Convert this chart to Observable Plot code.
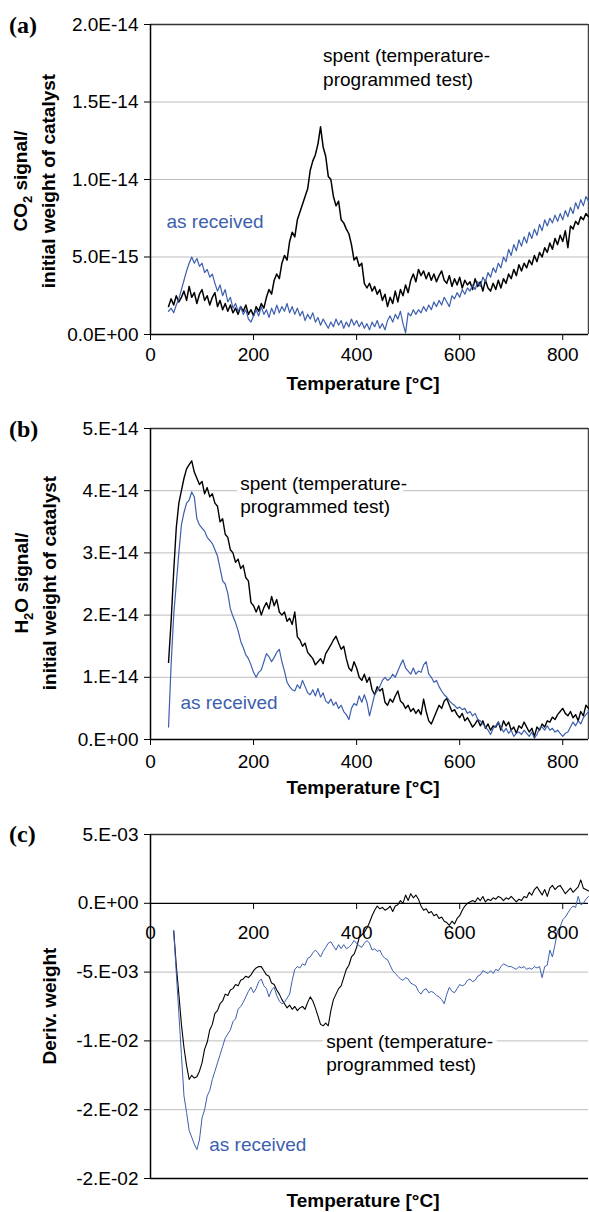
<!DOCTYPE html>
<html><head><meta charset="utf-8">
<script src="https://cdn.jsdelivr.net/npm/d3@7"></script>
<script src="https://cdn.jsdelivr.net/npm/@observablehq/plot@0.6"></script>
<style>
body{margin:0;background:#fff;}
#wrap{position:relative;width:589px;height:1212px;overflow:hidden;}
.panel{position:absolute;left:0;}
</style></head><body><div id="wrap"></div>
<script>
// Temperature grid (°C) for panels (a) and (b)
const tempsAB = [35,40,45,50,55,60,65,70,75,80,85,90,95,100,105,110,115,120,125,130,135,140,145,150,155,160,165,170,175,180,185,190,195,200,205,210,215,220,225,230,235,240,245,250,255,260,265,270,275,280,285,290,295,300,305,310,315,320,325,330,335,340,345,350,355,360,365,370,375,380,385,390,395,400,405,410,415,420,425,430,435,440,445,450,455,460,465,470,475,480,485,490,495,500,505,510,515,520,525,530,535,540,545,550,555,560,565,570,575,580,585,590,595,600,605,610,615,620,625,630,635,640,645,650,655,660,665,670,675,680,685,690,695,700,705,710,715,720,725,730,735,740,745,750,755,760,765,770,775,780,785,790,795,800,805,810,815,820,825,830,835,840,845,850];
// Temperature grid (°C) for panel (c)
const tempsC = [45,50,55,60,65,70,75,80,85,90,95,100,105,110,115,120,125,130,135,140,145,150,155,160,165,170,175,180,185,190,195,200,205,210,215,220,225,230,235,240,245,250,255,260,265,270,275,280,285,290,295,300,305,310,315,320,325,330,335,340,345,350,355,360,365,370,375,380,385,390,395,400,405,410,415,420,425,430,435,440,445,450,455,460,465,470,475,480,485,490,495,500,505,510,515,520,525,530,535,540,545,550,555,560,565,570,575,580,585,590,595,600,605,610,615,620,625,630,635,640,645,650,655,660,665,670,675,680,685,690,695,700,705,710,715,720,725,730,735,740,745,750,755,760,765,770,775,780,785,790,795,800,805,810,815,820,825,830,835,840,845,850];

// (a) CO2 signal / initial weight, in units of 1E-15
const co2Spent = [1.8,2.3,1.9,2.5,2.1,2.4,2.8,2.2,3.1,2.4,
2.7,2.0,2.6,2.9,2.2,2.5,1.9,2.4,2.7,1.8,
2.2,1.6,2.0,1.5,1.9,1.4,1.7,1.3,1.8,1.5,
1.9,1.3,1.6,1.2,1.8,1.5,2.0,1.7,2.4,2.9,
2.6,3.5,3.9,3.6,4.6,5.1,4.8,6.0,6.6,6.3,
7.4,7.9,8.4,8.9,9.4,10.6,11.2,11.6,12.3,13.4,
12.1,11.5,10.2,10.0,8.9,8.3,8.6,7.4,7.2,6.8,
6.5,5.8,4.8,5.0,4.4,4.6,3.3,3.0,3.3,2.8,
3.1,2.6,2.9,2.2,2.6,1.8,2.4,2.0,2.8,2.1,
2.9,2.5,3.2,2.7,3.5,3.9,3.4,4.2,3.8,4.1,
3.6,4.0,3.5,3.9,3.4,3.8,4.1,3.5,3.3,3.8,
3.1,3.6,3.2,3.7,3.0,3.5,3.2,3.4,2.9,3.6,
3.1,3.4,2.8,3.5,3.0,2.8,3.3,2.9,3.5,3.0,
3.6,3.3,3.9,3.6,4.2,3.8,4.5,4.1,4.6,4.3,
4.8,4.5,5.1,4.7,5.3,5.0,5.6,5.3,5.9,5.5,
6.2,5.8,6.4,6.0,6.7,5.6,7.0,6.8,7.3,7.1,
7.6,7.4,7.8,7.6];
const co2Received = [1.5,1.7,1.4,1.9,2.3,2.9,3.5,4.1,4.6,5.0,
4.6,4.9,4.4,4.6,4.0,4.2,3.7,3.9,3.3,2.8,
3.2,2.5,2.9,2.1,2.4,1.7,2.0,1.5,1.8,1.3,
1.6,1.0,0.8,1.2,1.6,1.2,1.8,1.3,1.6,1.1,
1.7,1.3,1.9,1.4,1.8,1.5,2.0,1.4,1.8,1.3,
1.7,1.2,1.5,0.9,1.3,1.0,1.4,0.8,1.1,0.6,
1.0,0.7,0.4,0.8,0.5,1.0,0.6,0.9,0.4,0.8,
0.5,1.0,0.6,0.9,0.5,0.8,0.4,0.7,0.3,0.8,
0.5,0.9,0.4,0.7,0.3,0.9,1.2,0.8,1.3,1.0,
1.5,0.7,0.1,1.4,1.2,1.6,1.3,1.6,1.4,1.8,
1.5,1.9,1.6,2.1,1.8,2.2,1.9,2.4,2.1,1.8,
2.5,2.3,2.7,2.4,2.9,2.6,3.0,2.8,3.2,2.9,
3.4,3.1,3.7,3.4,4.0,3.7,4.3,4.0,4.6,4.3,
5.0,4.7,5.5,5.1,5.8,5.4,6.1,5.7,6.3,5.9,
6.6,6.2,6.8,6.4,7.1,6.7,7.4,7.0,7.5,7.2,
7.7,7.3,7.8,7.4,8.0,7.6,8.2,7.8,8.5,8.1,
8.7,8.3,8.9,8.6];

// (b) H2O signal / initial weight, in units of 1E-14
const h2oSpent = [1.24,1.9,2.7,3.4,3.8,4.0,4.2,4.35,4.42,4.48,
4.3,4.2,4.1,4.15,3.95,4.05,3.9,3.95,3.8,3.75,
3.5,3.55,3.3,3.25,3.05,3.0,2.85,2.9,2.75,2.8,
2.6,2.55,2.2,2.15,2.05,2.15,2.0,2.12,2.2,2.1,
2.3,2.15,2.25,2.05,2.0,2.05,1.9,1.95,1.85,2.05,
1.65,1.6,1.5,1.55,1.4,1.35,1.3,1.2,1.25,1.3,
1.22,1.38,1.45,1.52,1.6,1.66,1.55,1.45,1.5,1.3,
1.15,1.1,1.25,1.15,1.0,0.95,1.05,0.92,1.0,0.8,
0.72,0.85,0.78,0.82,0.6,0.55,0.65,0.6,0.7,0.78,
0.62,0.58,0.5,0.55,0.45,0.5,0.42,0.48,0.4,0.65,
0.45,0.3,0.25,0.35,0.45,0.55,0.5,0.62,0.66,0.55,
0.45,0.48,0.4,0.35,0.42,0.3,0.35,0.28,0.2,0.25,
0.32,0.22,0.3,0.18,0.25,0.15,0.22,0.2,0.28,0.15,
0.3,0.22,0.28,0.15,0.2,0.1,0.22,0.18,0.28,0.2,
0.12,0.18,0.05,0.2,0.15,0.25,0.2,0.3,0.28,0.36,
0.32,0.4,0.45,0.5,0.42,0.38,0.45,0.35,0.4,0.3,
0.45,0.38,0.55,0.5];
const h2oReceived = [0.2,1.2,2.0,2.5,3.0,3.45,3.65,3.8,3.85,3.98,
3.9,3.55,3.45,3.4,3.35,3.25,3.2,3.15,3.05,2.95,
2.75,2.55,2.5,2.35,2.1,1.98,1.88,1.75,1.58,1.48,
1.36,1.3,1.2,1.08,1.0,1.08,1.12,1.25,1.38,1.33,
1.25,1.32,1.4,1.45,1.25,1.1,0.92,0.85,0.8,0.78,
0.88,0.82,0.95,0.85,0.75,0.72,0.8,0.7,0.82,0.68,
0.75,0.62,0.58,0.65,0.55,0.6,0.5,0.55,0.45,0.4,
0.32,0.5,0.58,0.55,0.7,0.6,0.72,0.6,0.38,0.55,
0.72,0.78,0.85,0.95,1.0,0.95,0.98,1.05,1.0,1.1,
1.2,1.28,1.15,1.1,1.05,1.15,1.05,1.1,1.08,1.2,
1.25,1.05,1.0,0.92,0.95,0.85,0.78,0.72,0.68,0.62,
0.58,0.55,0.5,0.52,0.48,0.5,0.42,0.45,0.38,0.42,
0.32,0.3,0.25,0.2,0.15,0.08,0.18,0.22,0.28,0.2,
0.12,0.18,0.1,0.15,0.05,0.1,0.12,0.08,0.15,0.1,
0.05,0.12,0.02,0.08,0.18,0.2,0.15,0.22,0.15,0.18,
0.12,0.15,0.1,0.05,0.1,0.12,0.2,0.28,0.22,0.3,
0.25,0.35,0.4,0.45];

// (c) Derivative weight, in units of 1E-3
const derivSpent = [-2.0,-4.5,-6.6,-8.8,-10.5,-11.8,-12.8,-12.5,-12.7,-12.6,
-12.2,-11.6,-10.6,-10.1,-9.2,-8.8,-8.0,-7.8,-7.3,-7.1,
-6.6,-6.7,-6.3,-6.2,-5.9,-6.0,-5.6,-5.5,-5.3,-5.4,
-5.2,-4.9,-4.7,-4.6,-4.6,-4.9,-5.2,-5.3,-5.8,-5.9,
-6.3,-6.6,-7.0,-7.3,-7.6,-7.4,-7.7,-7.5,-7.8,-7.6,
-7.5,-7.7,-7.2,-6.8,-7.1,-7.6,-8.2,-8.8,-8.9,-8.7,
-8.9,-7.8,-7.0,-6.6,-6.2,-6.0,-5.4,-4.8,-4.5,-3.9,
-3.7,-3.2,-2.5,-2.3,-2.1,-1.8,-1.4,-0.9,-0.5,-0.2,
-0.4,-0.3,-0.5,-0.4,-0.2,-0.6,-0.2,-0.1,0.2,0.0,
0.6,0.2,0.7,0.4,0.6,0.3,-0.2,-0.5,-0.4,-0.7,
-0.6,-0.9,-0.8,-1.1,-1.0,-1.3,-1.4,-1.6,-1.3,-1.5,
-1.1,-0.9,-0.5,-0.2,0.0,0.1,0.2,0.1,0.4,0.2,
0.5,0.1,0.3,0.2,0.4,0.3,0.5,0.4,0.2,0.4,
0.3,0.5,0.3,0.1,0.3,0.2,0.5,0.4,0.8,0.6,
1.0,1.2,0.9,0.6,1.0,0.5,1.1,1.3,1.0,1.2,
1.3,1.0,0.7,0.9,1.1,0.8,1.0,1.2,1.7,1.1,
1.0,0.9];
const derivReceived = [-2.0,-5.0,-8.0,-11.0,-14.0,-15.2,-16.5,-17.0,-17.5,-17.9,
-17.2,-15.6,-15.0,-14.0,-13.6,-12.8,-12.2,-11.6,-11.0,-10.4,
-9.8,-9.5,-9.2,-8.6,-8.4,-7.7,-7.5,-7.2,-6.8,-6.4,
-6.1,-6.5,-6.2,-5.7,-5.5,-6.0,-6.2,-6.8,-6.3,-6.1,
-6.7,-7.1,-7.3,-7.2,-6.9,-6.6,-5.6,-4.8,-4.6,-4.7,
-4.4,-4.5,-4.0,-3.9,-3.6,-3.4,-3.6,-3.9,-3.5,-3.2,
-2.9,-2.8,-3.1,-3.4,-3.0,-3.3,-3.0,-3.3,-3.2,-3.0,
-2.7,-2.9,-3.1,-3.2,-2.9,-2.7,-2.9,-3.4,-3.3,-3.5,
-3.4,-3.8,-4.0,-4.1,-4.5,-4.9,-5.1,-5.3,-5.5,-5.6,
-5.4,-5.5,-5.8,-5.9,-6.0,-6.4,-6.6,-6.3,-6.2,-6.5,
-6.4,-6.5,-6.7,-6.8,-7.0,-7.3,-6.6,-6.1,-6.4,-6.5,
-6.2,-5.9,-6.0,-5.9,-5.6,-5.5,-5.7,-5.6,-5.3,-5.2,
-4.9,-5.0,-5.1,-4.9,-5.1,-4.8,-4.9,-4.6,-4.4,-4.5,
-4.6,-4.6,-4.7,-4.8,-4.6,-4.7,-4.6,-4.8,-4.7,-4.8,
-4.6,-4.7,-4.6,-5.4,-4.6,-4.5,-3.4,-3.9,-3.0,-2.0,
-1.7,-1.2,-1.0,-0.7,-0.4,-0.2,-0.3,0.5,-0.1,0.0,
0.3,0.5];

// Axis ticks and labels
const xTicks = [0,200,400,600,800];
const yTicksA = [0,5,10,15,20];
const yLabelsA = ["0.0E+00","5.0E-15","1.0E-14","1.5E-14","2.0E-14"];
const yTicksB = [0,1,2,3,4,5];
const yLabelsB = ["0.E+00","1.E-14","2.E-14","3.E-14","4.E-14","5.E-14"];
const yTicksC = [5,0,-5,-10,-15,-20];
const yLabelsC = ["5.E-03","0.E+00","-5.E-03","-1.E-02","-2.E-02","-2.E-02"];

const spentLabel = "spent (temperature-\nprogrammed test)";
const receivedLabel = "as received";
const xTitle = "Temperature [°C]";

const BLUE = "#3d5fae";
const FONT = "Liberation Sans, Arial, Helvetica, sans-serif";
const W = 589;

function makePanel(cfg) {
  const fmt = new Map(cfg.yTicks.map((t, i) => [t, cfg.yLabels[i]]));
  const marks = [
    Plot.ruleY(cfg.grid, {stroke: "#bdbdbd", strokeWidth: 1}),
    Plot.ruleY([cfg.yDomain[1]], {stroke: "#333", strokeWidth: 1.3}),
  ];
  if (cfg.rightBorder) marks.push(Plot.ruleX([850], {stroke: "#444", strokeWidth: 1.5}));
  if (cfg.zeroLine) marks.push(Plot.ruleY([0], {stroke: "black", strokeWidth: 1.3}));
  marks.push(
    Plot.line(cfg.spent, {x: cfg.temps, y: cfg.spent, stroke: "black", strokeWidth: cfg.wBlack, curve: "linear"}),
    Plot.line(cfg.received, {x: cfg.temps, y: cfg.received, stroke: BLUE, strokeWidth: cfg.wBlue, curve: "linear"}),
    Plot.ruleX([0], {stroke: "black", strokeWidth: 1.5}),
    Plot.ruleY([cfg.yDomain[0]], {stroke: "black", strokeWidth: cfg.bottomW}),
    Plot.axisY(cfg.yTicks, {tickSize: 6, tickPadding: 6, tickFormat: d => fmt.get(d), label: null, stroke: "black"}),
    Plot.axisX(xTicks, {tickSize: 6, tickPadding: cfg.xPad, tickFormat: d => String(d), label: null, dy: cfg.xAxisDy || 0}),
    Plot.text([spentLabel], {x: cfg.spentPos[0], y: cfg.spentPos[1], text: d => d, textAnchor: "start", lineAnchor: "top", lineHeight: cfg.lh, fill: "black", stroke: cfg.halo ? "white" : "none", strokeWidth: 9}),
    Plot.text([receivedLabel], {x: cfg.recPos[0], y: cfg.recPos[1], text: d => d, textAnchor: "start", lineAnchor: "top", fill: BLUE})
  );
  const chart = Plot.plot({
    width: W, height: cfg.height,
    marginTop: cfg.mt, marginBottom: cfg.mb, marginLeft: 150, marginRight: 1,
    x: {domain: [0, 850]},
    y: {domain: cfg.yDomain},
    style: {fontFamily: FONT, fontSize: "19px", color: "black", background: "white", overflow: "visible"},
    marks
  });
  chart.classList.add("panel");
  chart.style.top = cfg.top + "px";
  const svg = d3.select(chart);
  svg.append("text").attr("x", 9).attr("y", cfg.labelY).attr("text-anchor", "start")
    .style("font-family", "Liberation Serif, Times New Roman, serif").style("font-weight", "bold").style("font-size", "24px")
    .text(cfg.panelLabel);
  svg.append("text").attr("x", 363).attr("y", cfg.xTitleY).attr("text-anchor", "middle")
    .style("font-weight", "bold").style("font-size", "19px").text(xTitle);
  cfg.yTitle(svg);
  document.getElementById("wrap").appendChild(chart);
}

function rotText(svg, x, y) {
  return svg.append("text").attr("transform", `translate(${x},${y}) rotate(-90)`).attr("text-anchor", "middle")
    .style("font-weight", "bold").style("font-size", "19px");
}

makePanel({
  top: 0, height: 400, mt: 24, mb: 66, xPad: 7,
  temps: tempsAB, spent: co2Spent, received: co2Received,
  yDomain: [0, 20], yTicks: yTicksA, yLabels: yLabelsA, grid: [5, 10, 15],
  rightBorder: true, wBlack: 1.5, wBlue: 1.2, bottomW: 1.5,
  spentPos: [335, 18.68], recPos: [31, 7.71], lh: 1.26, halo: false,
  panelLabel: "(a)", labelY: 33, xTitleY: 390,
  yTitle: svg => {
    const t = rotText(svg, 27, 181);
    t.append("tspan").text("CO");
    t.append("tspan").attr("dy", 5).style("font-size", "13px").text("2");
    t.append("tspan").attr("dy", -5).text(" signal/");
    rotText(svg, 55, 181).text("initial weight of catalyst");
  }
});

makePanel({
  top: 400, height: 400, mt: 28, mb: 61, xPad: 9,
  temps: tempsAB, spent: h2oSpent, received: h2oReceived,
  yDomain: [0, 5], yTicks: yTicksB, yLabels: yLabelsB, grid: [1, 2, 3, 4],
  rightBorder: true, wBlack: 1.4, wBlue: 1.2, bottomW: 1.5,
  spentPos: [174, 4.27], recPos: [58, 0.715], lh: 1.21, halo: true,
  panelLabel: "(b)", labelY: 37, xTitleY: 394,
  yTitle: svg => {
    const t = rotText(svg, 28, 183);
    t.append("tspan").text("H");
    t.append("tspan").attr("dy", 5).style("font-size", "13px").text("2");
    t.append("tspan").attr("dy", -5).text("O signal/");
    rotText(svg, 56, 183).text("initial weight of catalyst");
  }
});

makePanel({
  top: 800, height: 412, mt: 34, mb: 34, xPad: 16, xAxisDy: -275,
  temps: tempsC, spent: derivSpent, received: derivReceived,
  yDomain: [-20, 5], yTicks: yTicksC, yLabels: yLabelsC, grid: [-5, -10, -15],
  rightBorder: false, wBlack: 1.1, wBlue: 1.0, bottomW: 1.3, zeroLine: true,
  spentPos: [341, -9.31], recPos: [114, -16.99], lh: 1.21, halo: true,
  panelLabel: "(c)", labelY: 42, xTitleY: 407,
  yTitle: svg => {
    rotText(svg, 56, 206).text("Deriv. weight");
  }
});
</script>
</body></html>
